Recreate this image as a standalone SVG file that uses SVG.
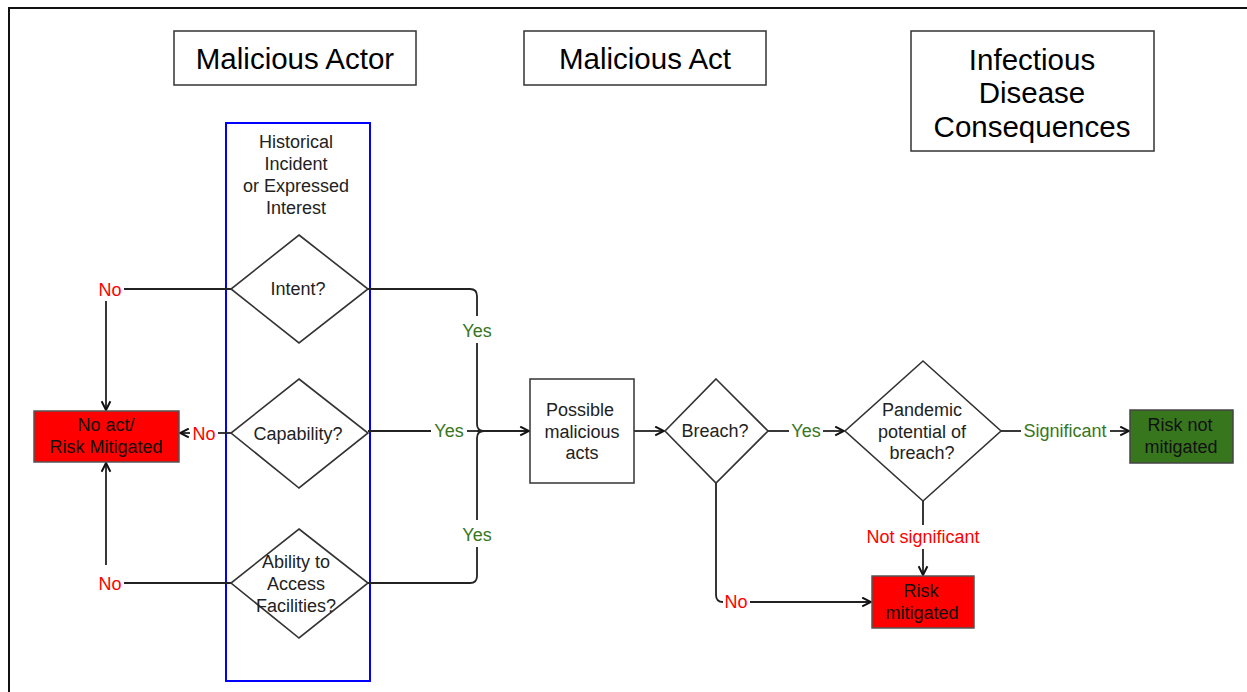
<svg xmlns="http://www.w3.org/2000/svg" width="1247" height="692" viewBox="0 0 1247 692">
<defs>
<marker id="arr" viewBox="0 0 10 10" refX="9" refY="5" markerUnits="userSpaceOnUse" markerWidth="11" markerHeight="11" orient="auto">
<path d="M1,1 L9,5 L1,9" fill="none" stroke="#111" stroke-width="1.8"/>
</marker>
</defs>
<style>
text{font-family:"Liberation Sans",Arial,sans-serif;text-anchor:middle}
.h{font-size:29.5px;fill:#000}
.t{font-size:18px;fill:#222}
.red{font-size:18px;fill:#ff0000}
.grn{font-size:18px;fill:#38761d}
.dk{fill:#111}
.box{fill:#fff;stroke:#333;stroke-width:1.5}
.dia{fill:#fff;stroke:#333;stroke-width:1.6}
.rbox{fill:#ff0000;stroke:#555;stroke-width:1.5}
.gbox{fill:#38761d;stroke:#444;stroke-width:1.5}
.c{fill:none;stroke:#222;stroke-width:1.8}
</style>
<rect width="1247" height="692" fill="#fff"/>
<path d="M9,692 V8 H1247" fill="none" stroke="#111" stroke-width="2"/>

<g id="hdr-actor"><rect class="box" x="174" y="31" width="242" height="54"/><text class="h" x="295" y="69">Malicious Actor</text></g>
<g id="hdr-act"><rect class="box" x="524" y="31" width="242" height="54"/><text class="h" x="645" y="69">Malicious Act</text></g>
<g id="hdr-cons"><rect class="box" x="911" y="31" width="243" height="120"/>
<text class="h" x="1032" y="70">Infectious</text><text class="h" x="1032" y="103">Disease</text><text class="h" x="1032" y="137">Consequences</text></g>

<g id="history"><rect x="226" y="123" width="144" height="558" fill="none" stroke="#0000ff" stroke-width="2"/>
<text class="t" x="296" y="148">Historical</text><text class="t" x="296" y="170">Incident</text><text class="t" x="296" y="192">or Expressed</text><text class="t" x="296" y="214">Interest</text></g>

<g id="connectors">
<path class="c" d="M231,289 H124"/>
<path class="c" d="M106,301 V410" marker-end="url(#arr)"/>
<path class="c" d="M231,583 H124"/>
<path class="c" d="M106,565 V463" marker-end="url(#arr)"/>
<path class="c" d="M231,433 H218"/>
<path class="c" d="M190,433 H180" marker-end="url(#arr)"/>
<path class="c" d="M368,289 H470 Q477,289 477,296 V316"/>
<path class="c" d="M477,343 V424 Q477,431 484,431"/>
<path class="c" d="M368,431 H431"/>
<path class="c" d="M467,431 H480"/>
<path class="c" d="M477,431 H529" stroke-width="2.6" marker-end="url(#arr)"/>
<path class="c" d="M368,583 H470 Q477,583 477,576 V547"/>
<path class="c" d="M477,520 V438 Q477,431 484,431"/>
<path class="c" d="M634,431 H664" marker-end="url(#arr)"/>
<path class="c" d="M768,431 H789"/>
<path class="c" d="M823,431 H844" marker-end="url(#arr)"/>
<path class="c" d="M1001,431 H1021"/>
<path class="c" d="M1110,431 H1129" marker-end="url(#arr)"/>
<path class="c" d="M923,501 V525"/>
<path class="c" d="M923,549 V575" marker-end="url(#arr)"/>
<path class="c" d="M716,483 V595 Q716,602 723,602"/>
<path class="c" d="M750,602 H871" marker-end="url(#arr)"/>
<text class="red" x="110" y="296">No</text>
<text class="red" x="110" y="590">No</text>
<text class="red" x="204" y="440">No</text>
<text class="grn" x="477" y="337">Yes</text>
<text class="grn" x="449" y="437">Yes</text>
<text class="grn" x="477" y="541">Yes</text>
<text class="grn" x="806" y="437">Yes</text>
<text class="grn" x="1065" y="437">Significant</text>
<text class="red" x="923" y="543">Not significant</text>
<text class="red" x="736" y="608">No</text>
</g>

<g id="intent"><polygon class="dia" points="299,235 368,289 299,343 231,289"/><text class="t" x="298" y="295">Intent?</text></g>
<g id="capability"><polygon class="dia" points="299,379 368,433 299,488 231,433"/><text class="t" x="298" y="440">Capability?</text></g>
<g id="ability"><polygon class="dia" points="299,529 368,583 299,638 231,583"/>
<text class="t" x="296" y="568">Ability to</text><text class="t" x="296" y="590">Access</text><text class="t" x="296" y="612">Facilities?</text></g>

<g id="noact"><rect class="rbox" x="34" y="411" width="145" height="51"/>
<text class="t dk" x="106" y="431">No act/</text><text class="t dk" x="106" y="453">Risk Mitigated</text></g>

<g id="possible"><rect class="box" x="530" y="379" width="104" height="104"/>
<text class="t" x="580" y="416">Possible</text><text class="t" x="582" y="438">malicious</text><text class="t" x="582" y="459">acts</text></g>

<g id="breach"><polygon class="dia" points="716,379 768,431 716,483 665,431"/><text class="t" x="715" y="437">Breach?</text></g>

<g id="pandemic"><polygon class="dia" points="923,361 1001,431 923,501 845,431"/>
<text class="t" x="922" y="416">Pandemic</text><text class="t" x="922" y="438">potential of</text><text class="t" x="922" y="459">breach?</text></g>

<g id="notmitigated"><rect class="gbox" x="1130" y="410" width="103" height="53"/>
<text class="t dk" x="1180" y="431">Risk not</text><text class="t dk" x="1181" y="453">mitigated</text></g>

<g id="mitigated"><rect class="rbox" x="872" y="576" width="102" height="52"/>
<text class="t dk" x="921" y="597">Risk</text><text class="t dk" x="922" y="619">mitigated</text></g>
</svg>
